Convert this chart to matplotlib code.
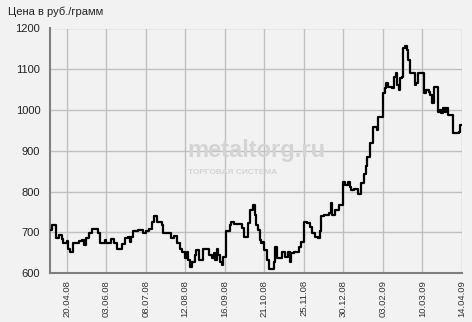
import matplotlib
matplotlib.use("Agg")
import matplotlib.pyplot as plt

# trading-day index and price (руб./грамм), step series
days = [0, 1, 3, 5, 7, 8, 10, 11, 12, 14, 16, 18, 20, 21, 22, 24, 26, 30, 31, 34, 35,
        38, 40, 42, 45, 47, 49, 50, 51, 52, 55, 58, 60, 62, 64, 65, 67, 70, 71, 76, 78, 80,
        82, 83, 85, 86, 87, 88, 89, 91, 92, 94, 96, 100, 102, 103, 104, 105, 106, 107, 108, 109,
        111, 113, 114, 116, 121, 122, 125, 126, 128, 129, 130, 131, 132, 133, 134, 135, 137, 138, 141, 142,
        143, 146, 148, 150, 151, 152, 154, 157, 158, 160, 162, 164, 165, 167, 169, 170, 171, 173, 176, 177,
        178, 180, 182, 185, 186, 188, 189, 190, 192, 194, 196, 198, 199, 200, 202, 204, 206, 207, 210, 211, 212,
        213, 216, 217, 218, 219, 220, 221, 222, 223, 224, 225, 226, 227, 230, 231, 232, 236, 237, 239, 240,
        241, 242, 245, 246, 247, 248, 249, 250, 251, 254, 258, 259, 260]
prices = [706, 718, 687, 693, 683, 673, 679, 660, 652, 673, 674, 678, 681, 669, 685, 698, 707, 698, 674, 681, 674,
          683, 673, 660, 670, 685, 689, 677, 689, 702, 706, 698, 702, 707, 726, 739, 724, 718, 698, 685, 690, 673,
          660, 652, 636, 652, 633, 615, 627, 644, 656, 633, 660, 644, 636, 648, 633, 660, 644, 627, 619, 640,
          702, 718, 726, 720, 710, 689, 722, 755, 768, 743, 718, 706, 681, 673, 677, 656, 631, 611, 627, 664,
          636, 652, 640, 652, 627, 648, 652, 664, 677, 726, 722, 714, 698, 689, 685, 702, 739, 743, 747, 772,
          743, 755, 766, 824, 816, 824, 811, 803, 807, 795, 820, 844, 862, 885, 918, 959, 951, 984, 1041, 1053, 1066,
          1057, 1053, 1082, 1090, 1061, 1049, 1078, 1082, 1152, 1156, 1148, 1123, 1090, 1061, 1066, 1090, 1041, 1049, 1045, 1037,
          1016, 1057, 996, 1000, 992, 1004, 996, 1004, 988, 943, 947, 963, 963]

tick_days = [10, 35, 60, 85, 110, 135, 160, 185, 210, 235, 260]
tick_labels = ["20.04.08", "03.06.08", "08.07.08", "12.08.08", "16.09.08", "21.10.08",
               "25.11.08", "30.12.08", "03.02.09", "10.03.09", "14.04.09"]
y_ticks = [600, 700, 800, 900, 1000, 1100, 1200]

plt.rcParams['font.family'] = ['Liberation Sans', 'DejaVu Sans']

bg = "#F2F2F2"
fig = plt.figure(figsize=(4.72, 3.22), dpi=100, facecolor=bg)
ax = fig.add_axes([50/472, 1-273/322, (462-50)/472, (273-28.5)/322], facecolor=bg)

ax.set_xlim(-0.5, 260)
ax.set_ylim(600, 1200)
ax.set_xticks(tick_days)
ax.set_xticklabels(tick_labels, rotation=90, fontsize=6.8, color="#333333")
ax.set_yticks(y_ticks)
ax.set_yticklabels([str(v) for v in y_ticks], fontsize=8, color="#222222")
ax.tick_params(axis="x", length=0, pad=5)
ax.tick_params(axis="y", length=0, pad=7)
ax.grid(True, color="#C0C0C0", linewidth=1.0)
ax.set_axisbelow(True)
for s in ["top", "right"]:
    ax.spines[s].set_visible(False)
for s in ["left", "bottom"]:
    ax.spines[s].set_color("#7F7F7F")
    ax.spines[s].set_linewidth(1.5)

# watermark
ax.text(0.5, 0.50, "metaltorg.ru", transform=ax.transAxes, fontsize=17, fontweight="bold",
        color="#D4D4D4", ha="center", va="center", zorder=1)
ax.text(0.335, 0.41, "ТОРГОВАЯ СИСТЕМА", transform=ax.transAxes, fontsize=6, fontweight="bold",
        color="#D4D4D4", ha="left", va="center", zorder=1)

ax.plot(days, prices, drawstyle="steps-post", color="black", linewidth=1.6, zorder=3,
        clip_on=True)

fig.text(8/472, 1-12/322, "Цена в руб./грамм", fontsize=8, color="#222222", ha="left", va="center")

fig.savefig("out.png", dpi=100, facecolor=bg)
